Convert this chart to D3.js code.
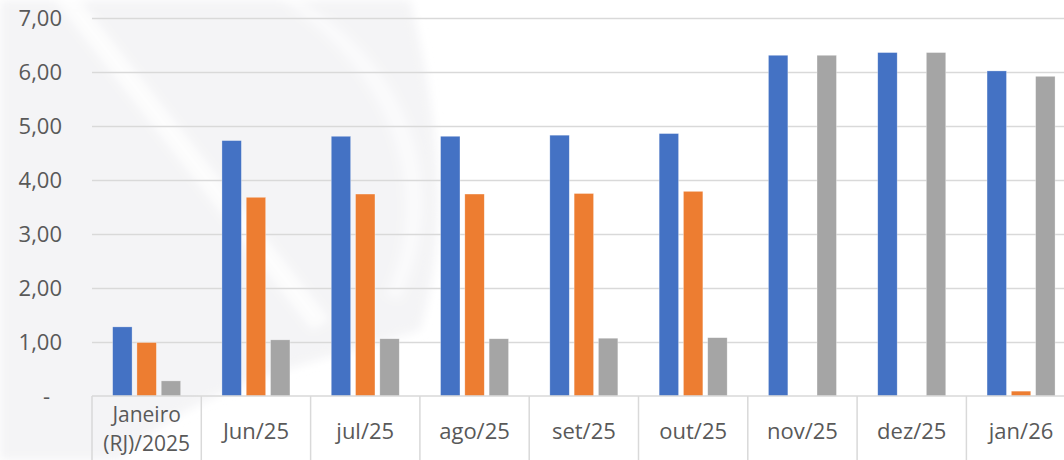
<!DOCTYPE html>
<html>
<head>
<meta charset="utf-8">
<script src="https://cdn.jsdelivr.net/npm/d3@7"></script>
<style>
  body { margin: 0; background: #fff; }
  svg { display: block; font-family: "Open Sans", sans-serif; }
</style>
</head>
<body>
<div id="chart"></div>
<script>
// chart values
const categories = ["Janeiro (RJ)/2025", "Jun/25", "jul/25", "ago/25", "set/25", "out/25", "nov/25", "dez/25", "jan/26"];
const seriesNames = ["serie1", "serie2", "serie3"];
const serie1 = [1.28, 4.73, 4.81, 4.81, 4.83, 4.86, 6.31, 6.36, 6.02];
const serie2 = [0.99, 3.68, 3.74, 3.74, 3.75, 3.79, null, null, 0.09];
const serie3 = [0.28, 1.04, 1.06, 1.06, 1.07, 1.08, 6.31, 6.36, 5.92];
const yTicks = [0, 1, 2, 3, 4, 5, 6, 7];
const colors = ["#4472C4", "#ED7D31", "#A5A5A5"];

const W = 1064, H = 460;
const plotLeft = 92, plotBase = 396, plotTop = 18, bandW = 109.3;

const svg = d3.select("#chart")
    .append("svg")
    .attr("width", W)
    .attr("height", H);

// soft watermark behind the chart
svg.append("defs").append("filter")
    .attr("id", "soft")
    .attr("x", "-20%").attr("y", "-20%").attr("width", "140%").attr("height", "140%")
    .append("feGaussianBlur")
    .attr("stdDeviation", 5);

const wm = svg.append("g").attr("filter", "url(#soft)");
wm.append("path")
    .attr("d", "M0,0 L410,0 C440,120 450,230 420,330 C330,360 200,380 120,460 L0,460 Z")
    .attr("fill", "#f4f4f6");
wm.append("path")
    .attr("d", "M55,0 L80,0 L330,320 L312,330 Z")
    .attr("fill", "#ffffff")
    .attr("opacity", 0.8);
wm.append("path")
    .attr("d", "M300,0 C420,70 450,200 400,300 L385,295 C430,200 400,80 280,0 Z")
    .attr("fill", "#ffffff")
    .attr("opacity", 0.5);

const pt = d3.formatLocale({ decimal: ",", thousands: ".", grouping: [3], currency: ["R$", ""] });
const fmt = pt.format(",.2f");

const x0 = d3.scaleBand()
    .domain(categories)
    .range([plotLeft, plotLeft + bandW * categories.length])
    .padding(0);

const x1 = d3.scaleBand()
    .domain(seriesNames)
    .range([0, x0.bandwidth()])
    .paddingInner(0.2)
    .paddingOuter(0.85);

const y = d3.scaleLinear()
    .domain([0, 7])
    .range([plotBase, plotTop]);

// gridlines
svg.append("g")
    .attr("transform", `translate(${plotLeft},0)`)
    .call(d3.axisLeft(y).tickValues(yTicks.slice(1)).tickSize(-(W - plotLeft)).tickFormat(""))
    .call(g => g.select(".domain").remove())
    .selectAll("line")
    .attr("stroke", "#d9d9d9")
    .attr("stroke-width", 1.5);

// y labels
const yAxis = svg.append("g")
    .attr("transform", `translate(${plotLeft},0)`)
    .call(d3.axisLeft(y).tickValues(yTicks).tickSize(0).tickPadding(30)
        .tickFormat(d => d === 0 ? "-" : fmt(d)));
yAxis.select(".domain").remove();
yAxis.selectAll("text")
    .attr("fill", "#595959")
    .style("font-size", "22px")
    .style("font-family", "Open Sans")
    .attr("dx", d => d === 0 ? -12 : 0);

// bars
const table = categories.map((c, i) => ({
    cat: c,
    vals: [serie1[i], serie2[i], serie3[i]]
}));

const groups = svg.append("g")
    .selectAll("g")
    .data(table)
    .join("g")
    .attr("transform", d => `translate(${x0(d.cat)},0)`);

groups.selectAll("rect")
    .data(d => d.vals.map((v, k) => ({ key: seriesNames[k], v: v, k: k })).filter(e => e.v != null))
    .join("rect")
    .attr("x", e => x1(e.key))
    .attr("width", x1.bandwidth())
    .attr("y", e => y(e.v))
    .attr("height", e => plotBase - y(e.v))
    .attr("fill", e => colors[e.k])
    .attr("stroke", "#ffffff")
    .attr("stroke-opacity", 0.5)
    .attr("stroke-width", 0.6);

// category axis
svg.append("line")
    .attr("x1", plotLeft).attr("x2", W)
    .attr("y1", plotBase).attr("y2", plotBase)
    .attr("stroke", "#d9d9d9")
    .attr("stroke-width", 1.5);

svg.append("g")
    .selectAll("line")
    .data(categories.map(c => x0(c)))
    .join("line")
    .attr("x1", d => d).attr("x2", d => d)
    .attr("y1", plotBase).attr("y2", H)
    .attr("stroke", "#d9d9d9")
    .attr("stroke-width", 1.5);

const labels = svg.append("g")
    .selectAll("text")
    .data(categories)
    .join("text")
    .attr("x", d => x0(d) + x0.bandwidth() / 2)
    .attr("y", 439)
    .attr("text-anchor", "middle")
    .attr("fill", "#595959")
    .style("font-size", "22px");

// the first label wraps onto two lines
labels.each(function(d) {
    const parts = d.split(" ");
    const t = d3.select(this);
    if (parts.length === 1) {
        t.text(d);
    } else {
        t.style("font-size", "21px");
        parts.forEach((p, i) => {
            t.append("tspan")
                .attr("x", x0(d) + x0.bandwidth() / 2)
                .attr("y", 422 + i * 29)
                .text(p);
        });
    }
});
</script>
</body>
</html>
